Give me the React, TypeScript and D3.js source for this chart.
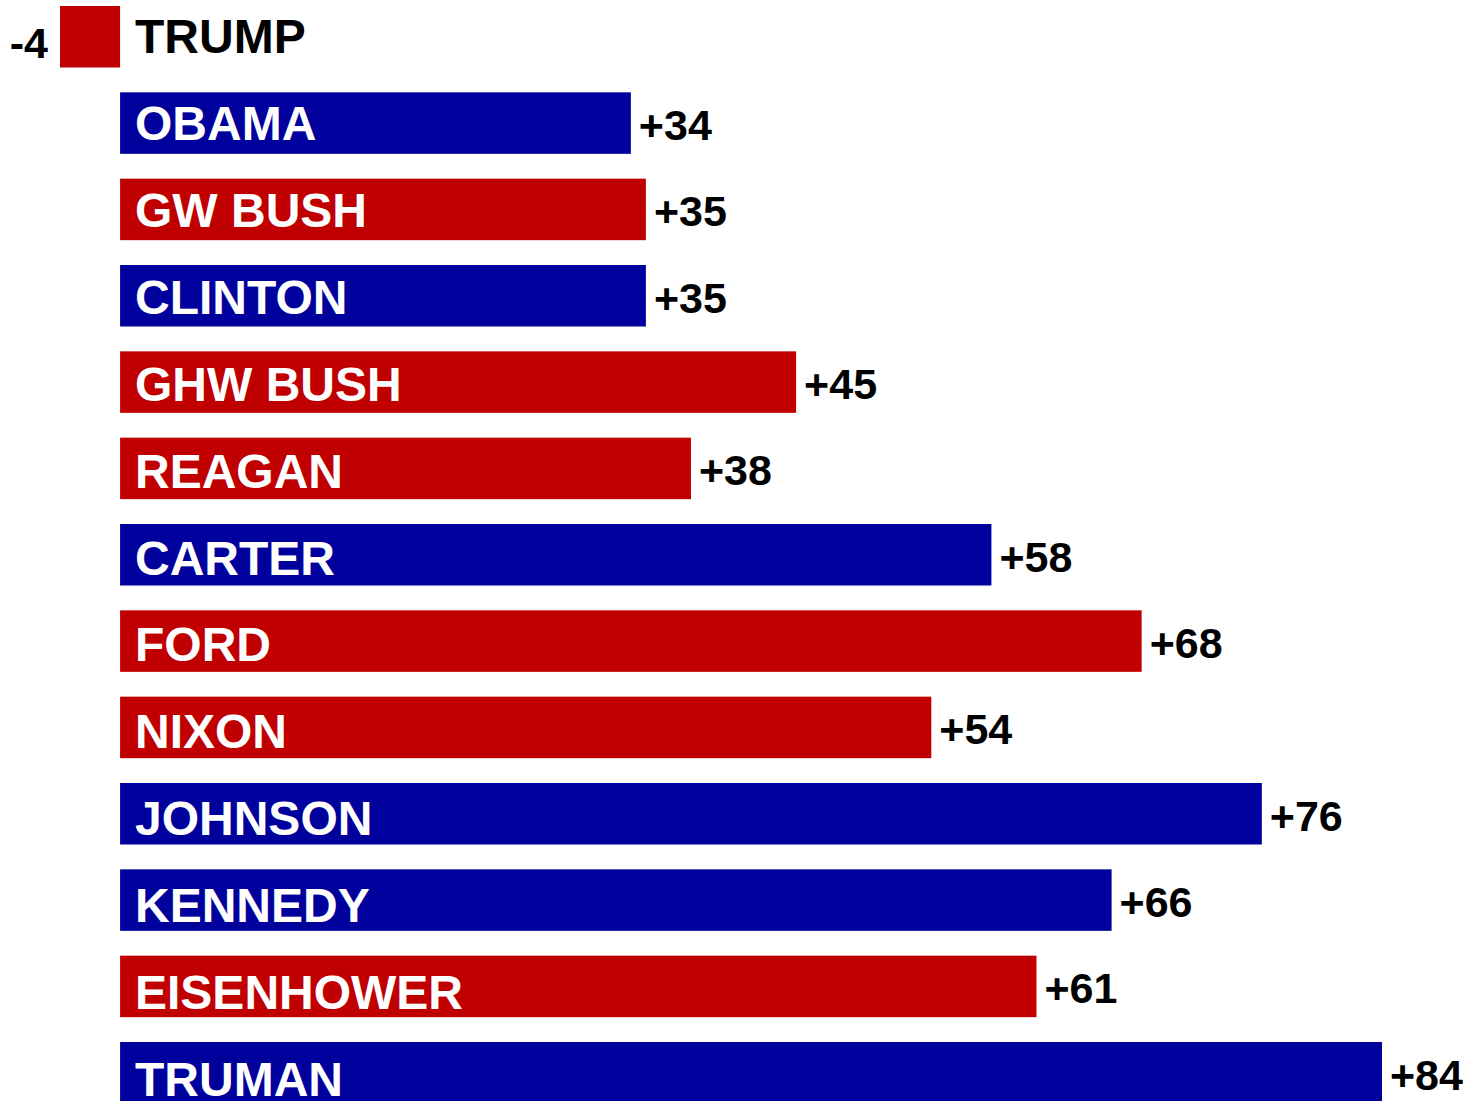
import React from "react";
import * as d3 from "d3";

const names = ["TRUMP", "OBAMA", "GW BUSH", "CLINTON", "GHW BUSH", "REAGAN", "CARTER", "FORD", "NIXON", "JOHNSON", "KENNEDY", "EISENHOWER", "TRUMAN"];
const values = [-4, 34, 35, 35, 45, 38, 58, 68, 54, 76, 66, 61, 84];
const parties = ["R", "D", "R", "D", "R", "R", "D", "R", "R", "D", "D", "R", "D"];
const valueLabels = ["-4", "+34", "+35", "+35", "+45", "+38", "+58", "+68", "+54", "+76", "+66", "+61", "+84"];

const W = 1474;
const H = 1101;
const RED = "#c00000";
const BLUE = "#00009c";
const FONT = "Arial, 'Liberation Sans', Helvetica, sans-serif";

export default function App() {
  const x = d3.scaleLinear().domain([-4, 84]).range([60, 1382]);
  const y = d3.scaleBand<string>().domain(names).range([6, 1103.5]).paddingInner(0.2876).paddingOuter(0);
  const labelY = d3.scalePoint<string>().domain(names).range([53, 1096]);
  const color = (p: string) => (p === "R" ? RED : BLUE);

  return (
    <svg width={W} height={H} style={{ position: "absolute", left: 0, top: 0, background: "#fff" }}>
      {names.map((n, i) => {
        const v = values[i];
        const x0 = x(Math.min(0, v));
        const x1 = x(Math.max(0, v));
        const yy = y(n) as number;
        const cy = yy + y.bandwidth() / 2;
        return (
          <g key={n}>
            <rect x={x0} y={yy} width={x1 - x0} height={y.bandwidth()} fill={color(parties[i])} />
            <text
              x={135}
              y={labelY(n)}
              fontFamily={FONT}
              fontWeight="bold"
              fontSize={48}
              fill={v < 0 ? "#000" : "#fff"}
            >
              {n}
            </text>
            <text
              x={v < 0 ? x(v) - 12 : x(v) + 8}
              y={v < 0 ? cy + 21 : cy + 17}
              textAnchor={v < 0 ? "end" : "start"}
              fontFamily={FONT}
              fontWeight="bold"
              fontSize={43}
              fill="#000"
            >
              {valueLabels[i]}
            </text>
          </g>
        );
      })}
    </svg>
  );
}
